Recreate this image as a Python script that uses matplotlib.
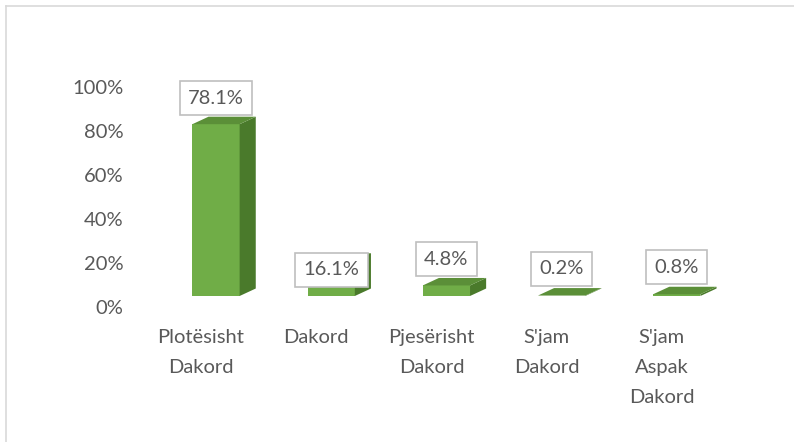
import matplotlib.pyplot as plt
from matplotlib.patches import Polygon
from matplotlib.lines import Line2D
from matplotlib import transforms

# data
categories = ['Plotësisht\nDakord', 'Dakord', 'Pjesërisht\nDakord',
              "S'jam\nDakord", "S'jam\nAspak\nDakord"]
values = [78.1, 16.1, 4.8, 0.2, 0.8]
value_labels = ['78.1%', '16.1%', '4.8%', '0.2%', '0.8%']
yticks = [0, 20, 40, 60, 80, 100]
ytick_labels = ['0%', '20%', '40%', '60%', '80%', '100%']

FRONT = '#70ad47'
SIDE = '#4a7a2b'
TOP = '#5b8f38'
TXT = '#595959'
FONT = 'Lato'
FS = 14.5

W, H = 794, 442


def main():
    fig = plt.figure(figsize=(W / 100, H / 100), dpi=100)
    ax = fig.add_axes([146.9 / W, (H - 296) / H, 599 / W, 220 / H])
    ax.set_xlim(-0.6, 4.6)
    ax.set_ylim(0, 100)

    x = list(range(len(values)))
    bw = 0.41
    dx, dy = 0.14, 3.4  # fake 3D depth in data units
    ax.bar(x, values, width=bw, color=FRONT, zorder=2)
    for xi, v in zip(x, values):
        r = xi + bw / 2
        l = xi - bw / 2
        side = Polygon([(r, 0), (r + dx, dy), (r + dx, v + dy), (r, v)],
                       closed=True, facecolor=SIDE, edgecolor='none',
                       zorder=2, clip_on=False)
        top = Polygon([(l, v), (r, v), (r + dx, v + dy), (l + dx, v + dy)],
                      closed=True, facecolor=TOP, edgecolor='none',
                      zorder=2, clip_on=False)
        ax.add_patch(side)
        ax.add_patch(top)

    # value labels
    offsets = [26, -9, 26, 27, 27]
    for xi, v, lab, off in zip(x, values, value_labels, offsets):
        ax.annotate(lab, (xi, v), xytext=(0, off * 0.72),
                    textcoords='offset points', ha='center', va='center',
                    fontsize=FS, family=FONT, color=TXT, zorder=5,
                    bbox=dict(boxstyle='square,pad=0.42', fc='white',
                              ec='#bfbfbf', lw=1.2))

    ax.set_yticks(yticks)
    ax.set_yticklabels(ytick_labels, family=FONT, fontsize=FS, color=TXT)
    ax.tick_params(axis='y', length=0, pad=17)
    yshift = transforms.ScaledTranslation(0, -11 / 100, fig.dpi_scale_trans)
    for t in ax.get_yticklabels():
        t.set_transform(t.get_transform() + yshift)

    ax.set_xticks(x)
    ax.set_xticklabels(categories, family=FONT, fontsize=FS, color=TXT,
                       linespacing=1.9, va='top')
    ax.tick_params(axis='x', length=0, pad=24)
    xshift = transforms.ScaledTranslation(-15 / 100, 0, fig.dpi_scale_trans)
    for t in ax.get_xticklabels():
        t.set_transform(t.get_transform() + xshift)

    for s in ax.spines.values():
        s.set_visible(False)

    # chart border
    fig.add_artist(Line2D([6 / W, 6 / W], [0, 1 - 6 / H], color='#d9d9d9', lw=1.2))
    fig.add_artist(Line2D([6 / W, 1], [1 - 6 / H, 1 - 6 / H], color='#d9d9d9', lw=1.2))

    fig.savefig('out.png', dpi=100)


if __name__ == "__main__":
    main()
